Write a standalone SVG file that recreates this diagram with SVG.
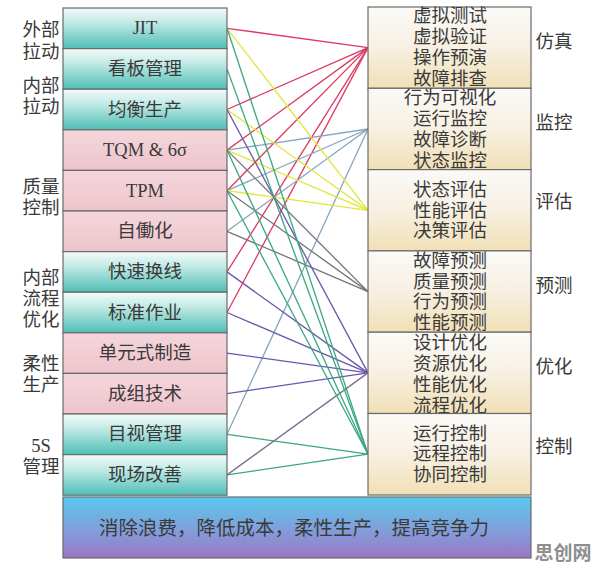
<svg xmlns="http://www.w3.org/2000/svg" width="596" height="570" viewBox="0 0 596 570">
<defs>
<linearGradient id="gTeal" x1="0" y1="0" x2="0" y2="1">
<stop offset="0" stop-color="#f2fbfa"/><stop offset="0.35" stop-color="#c4eae6"/><stop offset="1" stop-color="#4fbfb6"/>
</linearGradient>
<linearGradient id="gPink" x1="0" y1="0" x2="0" y2="1">
<stop offset="0" stop-color="#f4d6dc"/><stop offset="1" stop-color="#eec4cc"/>
</linearGradient>
<linearGradient id="gTan" x1="0" y1="0" x2="0" y2="1">
<stop offset="0" stop-color="#fbfaf8"/><stop offset="0.5" stop-color="#f7f0e2"/><stop offset="1" stop-color="#f1e0b6"/>
</linearGradient>
<linearGradient id="gBar" x1="0" y1="0" x2="0" y2="1">
<stop offset="0" stop-color="#58c8ec"/><stop offset="0.5" stop-color="#7fa2dc"/><stop offset="1" stop-color="#9b76c6"/>
</linearGradient>
</defs>
<style>
.box{stroke:#6a6a6a;stroke-width:1.2}
.teal{fill:url(#gTeal)}
.pink{fill:url(#gPink)}
.tan{fill:url(#gTan)}
text{font-family:"Liberation Serif","Noto Sans CJK SC",serif;fill:#3a3a3a;dominant-baseline:central;text-anchor:middle}
.t{font-size:18.5px}
.lb{font-size:18.5px}
.rt{font-size:18.5px}
.c{fill:none;stroke-width:1.3}
.r{stroke:#dc3a62}
.b{stroke:#86a4c0}
.y{stroke:#dfe63a}
.g{stroke:#74747c}
.p{stroke:#6c55ad}
.gr{stroke:#3aa87e}
</style>
<rect width="596" height="570" fill="#ffffff"/>

<g id="connectors">
<!-- 仿真 -->
<line class="c r" x1="227" y1="28.3" x2="368" y2="47.6"/>
<line class="c r" x1="227" y1="109.5" x2="368" y2="47.6"/>
<line class="c r" x1="227" y1="150.1" x2="368" y2="47.6"/>
<line class="c r" x1="227" y1="190.7" x2="368" y2="47.6"/>
<line class="c r" x1="227" y1="271.9" x2="368" y2="47.6"/>
<line class="c r" x1="227" y1="312.5" x2="368" y2="47.6"/>
<!-- 监控 -->
<line class="c b" x1="227" y1="150.1" x2="368" y2="129"/>
<line class="c b" x1="227" y1="190.7" x2="368" y2="129"/>
<line class="c b" x1="227" y1="231.3" x2="368" y2="129"/>
<line class="c b" x1="227" y1="434.3" x2="368" y2="129"/>
<!-- 评估 -->
<line class="c y" x1="227" y1="28.3" x2="368" y2="210.3"/>
<line class="c y" x1="227" y1="109.5" x2="368" y2="210.3"/>
<line class="c y" x1="227" y1="150.1" x2="368" y2="210.3"/>
<line class="c y" x1="227" y1="190.7" x2="368" y2="210.3"/>
<!-- 预测 -->
<line class="c g" x1="227" y1="150.1" x2="368" y2="291.6"/>
<line class="c g" x1="227" y1="190.7" x2="368" y2="291.6"/>
<line class="c g" x1="227" y1="231.3" x2="368" y2="291.6"/>
<!-- 优化 -->
<line class="c p" x1="227" y1="109.5" x2="368" y2="372.9"/>
<line class="c p" x1="227" y1="271.9" x2="368" y2="372.9"/>
<line class="c p" x1="227" y1="312.5" x2="368" y2="372.9"/>
<line class="c p" x1="227" y1="353.1" x2="368" y2="372.9"/>
<line class="c p" x1="227" y1="393.7" x2="368" y2="372.9"/>
<line class="c" stroke="#7a6f92" x1="227" y1="474.9" x2="368" y2="372.9"/>
<!-- 控制 -->
<line class="c gr" x1="227" y1="28.3" x2="368" y2="454.2"/>
<line class="c gr" x1="227" y1="68.9" x2="368" y2="454.2"/>
<line class="c gr" x1="227" y1="150.1" x2="368" y2="454.2"/>
<line class="c gr" x1="227" y1="190.7" x2="368" y2="454.2"/>
<line class="c gr" x1="227" y1="434.3" x2="368" y2="454.2"/>
<line class="c gr" x1="227" y1="474.9" x2="368" y2="454.2"/>
</g>

<g id="left-labels">
<text class="lb" x="41" y="30">外部</text>
<text class="lb" x="41" y="52">拉动</text>
<text class="lb" x="41" y="86">内部</text>
<text class="lb" x="41" y="107">拉动</text>
<text class="lb" x="41" y="187">质量</text>
<text class="lb" x="41" y="208">控制</text>
<text class="lb" x="41" y="278">内部</text>
<text class="lb" x="41" y="299">流程</text>
<text class="lb" x="41" y="320">优化</text>
<text class="lb" x="41" y="364">柔性</text>
<text class="lb" x="41" y="385">生产</text>
<text class="lb" x="41" y="446">5S</text>
<text class="lb" x="41" y="467">管理</text>
</g>

<g id="n-jit"><rect class="box teal" x="63" y="8" width="164" height="40.6"/><text class="t" x="145" y="28.3">JIT</text></g>
<g id="n-kanban"><rect class="box teal" x="63" y="48.6" width="164" height="40.6"/><text class="t" x="145" y="68.9">看板管理</text></g>
<g id="n-junheng"><rect class="box teal" x="63" y="89.2" width="164" height="40.6"/><text class="t" x="145" y="109.5">均衡生产</text></g>
<g id="n-tqm"><rect class="box pink" x="63" y="129.8" width="164" height="40.6"/><text class="t" x="145" y="150.1">TQM &amp; 6σ</text></g>
<g id="n-tpm"><rect class="box pink" x="63" y="170.4" width="164" height="40.6"/><text class="t" x="145" y="190.7">TPM</text></g>
<g id="n-jidoka"><rect class="box pink" x="63" y="211" width="164" height="40.6"/><text class="t" x="145" y="231.3">自働化</text></g>
<g id="n-smed"><rect class="box teal" x="63" y="251.6" width="164" height="40.6"/><text class="t" x="145" y="271.9">快速换线</text></g>
<g id="n-std"><rect class="box teal" x="63" y="292.2" width="164" height="40.6"/><text class="t" x="145" y="312.5">标准作业</text></g>
<g id="n-cell"><rect class="box pink" x="63" y="332.8" width="164" height="40.6"/><text class="t" x="145" y="353.1">单元式制造</text></g>
<g id="n-gt"><rect class="box pink" x="63" y="373.4" width="164" height="40.6"/><text class="t" x="145" y="393.7">成组技术</text></g>
<g id="n-visual"><rect class="box teal" x="63" y="414" width="164" height="40.6"/><text class="t" x="145" y="434.3">目视管理</text></g>
<g id="n-kaizen"><rect class="box teal" x="63" y="454.6" width="164" height="40.6"/><text class="t" x="145" y="474.9">现场改善</text></g>

<g id="n-sim"><rect class="box tan" x="368" y="7" width="163" height="81.3"/>
<text class="rt" x="450" y="16">虚拟测试</text><text class="rt" x="450" y="37">虚拟验证</text><text class="rt" x="450" y="58">操作预演</text><text class="rt" x="450" y="78.8">故障排查</text>
<text class="lb" x="554" y="42">仿真</text></g>
<g id="n-monitor"><rect class="box tan" x="368" y="88.3" width="163" height="81.3"/>
<text class="rt" x="450" y="98.4">行为可视化</text><text class="rt" x="450" y="119.2">运行监控</text><text class="rt" x="450" y="140">故障诊断</text><text class="rt" x="450" y="160.8">状态监控</text>
<text class="lb" x="554" y="123">监控</text></g>
<g id="n-eval"><rect class="box tan" x="368" y="169.6" width="163" height="81.3"/>
<text class="rt" x="450" y="190">状态评估</text><text class="rt" x="450" y="210.5">性能评估</text><text class="rt" x="450" y="231">决策评估</text>
<text class="lb" x="554" y="202">评估</text></g>
<g id="n-predict"><rect class="box tan" x="368" y="250.9" width="163" height="81.3"/>
<text class="rt" x="450" y="260.8">故障预测</text><text class="rt" x="450" y="281.6">质量预测</text><text class="rt" x="450" y="302.4">行为预测</text><text class="rt" x="450" y="323.2">性能预测</text>
<text class="lb" x="554" y="286">预测</text></g>
<g id="n-opt"><rect class="box tan" x="368" y="332.2" width="163" height="81.3"/>
<text class="rt" x="450" y="343">设计优化</text><text class="rt" x="450" y="364">资源优化</text><text class="rt" x="450" y="385">性能优化</text><text class="rt" x="450" y="405.5">流程优化</text>
<text class="lb" x="554" y="367">优化</text></g>
<g id="n-ctrl"><rect class="box tan" x="368" y="413.5" width="163" height="81.5"/>
<text class="rt" x="450" y="433.5">运行控制</text><text class="rt" x="450" y="454">远程控制</text><text class="rt" x="450" y="475">协同控制</text>
<text class="lb" x="554" y="447">控制</text></g>

<g id="n-goal"><rect class="box" fill="url(#gBar)" x="63" y="497" width="468" height="61"/>
<text x="294" y="528" style="font-size:19.5px">消除浪费，降低成本，柔性生产，提高竞争力</text></g>

<text x="563" y="553" style="font-size:19px;font-weight:bold;fill:#8e8e8e">思创网</text>
</svg>
